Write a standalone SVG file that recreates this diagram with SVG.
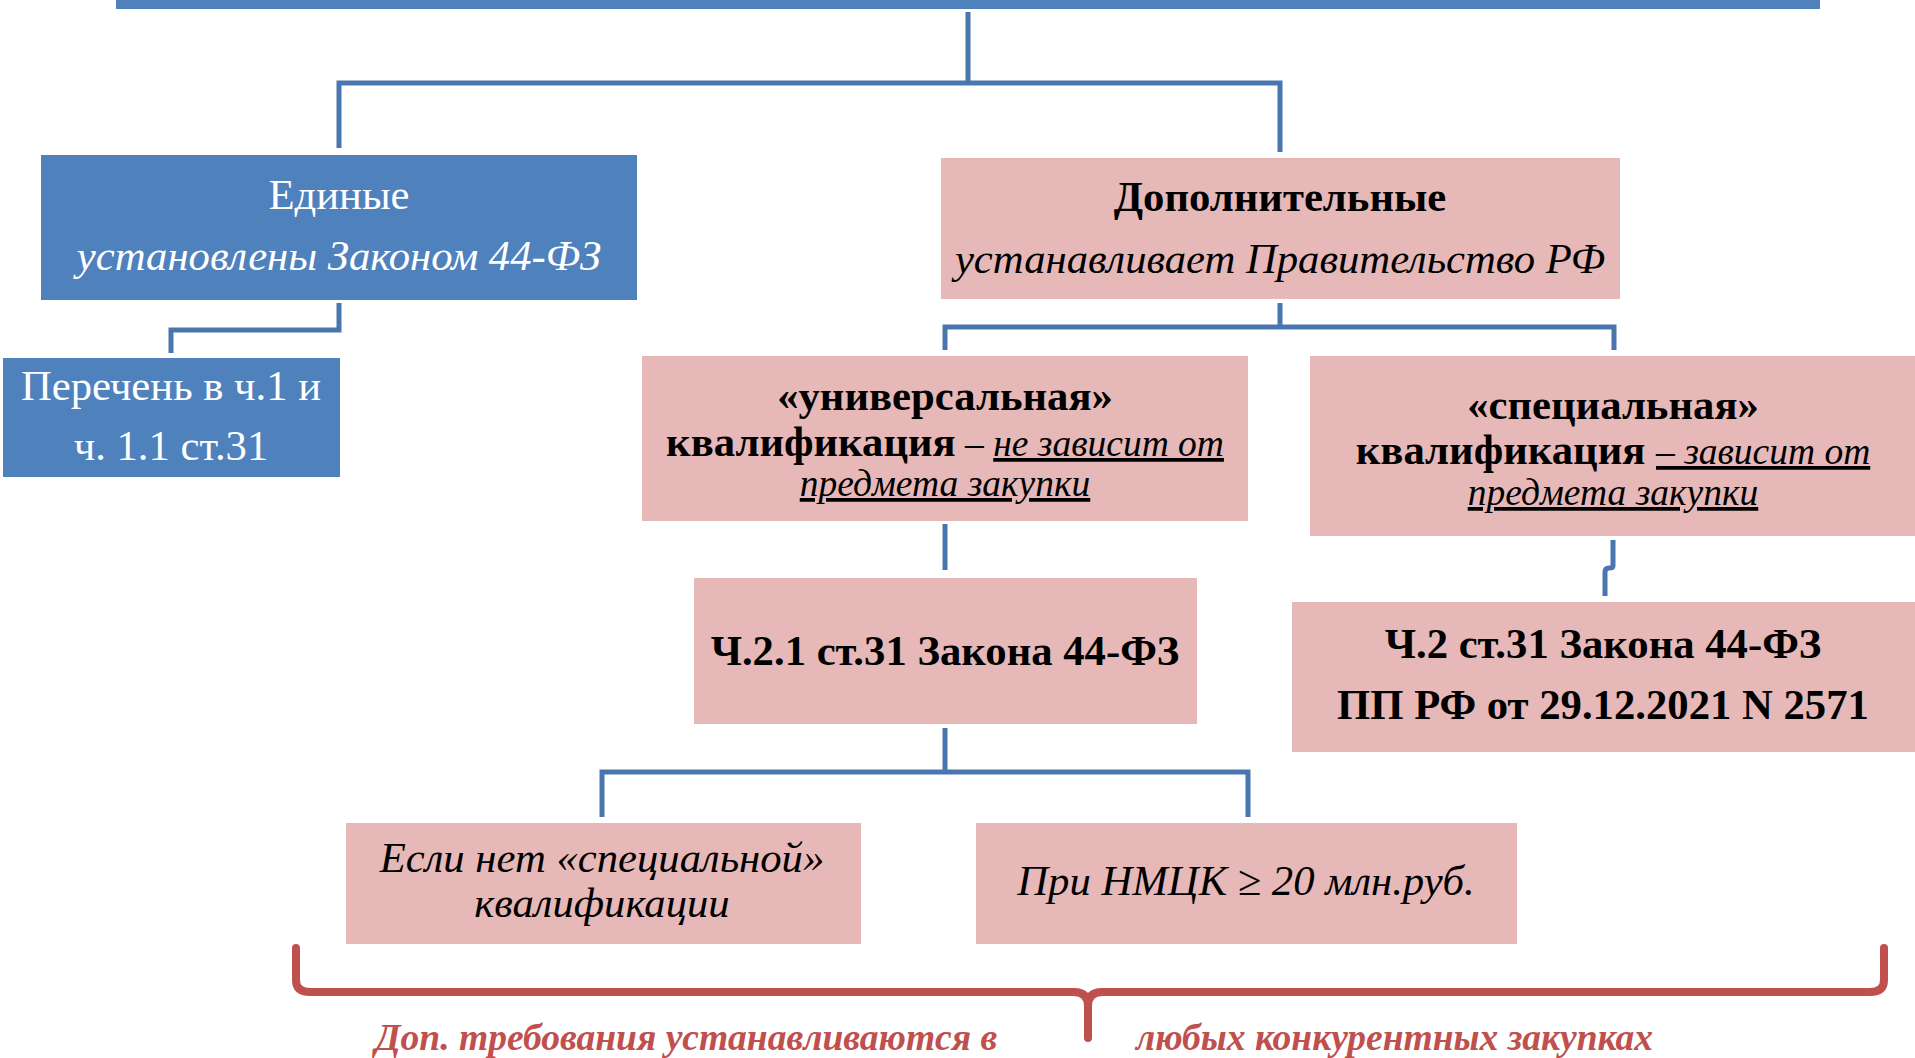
<svg xmlns="http://www.w3.org/2000/svg" width="1915" height="1058" viewBox="0 0 1915 1058">
<style>
text{font-family:"Liberation Serif","Times New Roman",serif;font-size:42.7px;text-anchor:middle;fill:#000}
.blue{fill:#4F81BD}
.pink{fill:#E6B8B7}
.w{fill:#fff}
.b{font-weight:bold}
.i{font-style:italic}
.s{font-size:37.5px}
.u{text-decoration:underline}
.conn{fill:none;stroke:#4A76B0;stroke-width:5}
.brace{fill:none;stroke:#C0504D;stroke-width:8;stroke-linecap:round;stroke-linejoin:round}
.red{fill:#C0504D;font-weight:bold;font-style:italic;font-size:37.5px;text-anchor:start}
</style>
<rect x="116" y="0" width="1704" height="9" class="blue"/>
<g id="connectors">
<path class="conn" d="M968,12 V83 M339,148 V83 H1280 V152"/>
<path class="conn" d="M339,303 V330 H171 V353"/>
<path class="conn" d="M1280,303 V327 M945,350 V327 H1614 V350"/>
<path class="conn" d="M945,524 V570"/>
<path class="conn" d="M1613,540 V566 Q1613,568 1609,568 Q1605,568 1605,572 V596"/>
<path class="conn" d="M945,728 V772 M602,817 V772 H1248 V817"/>
</g>
<g id="n-edinye">
<rect x="41" y="155" width="596" height="145" class="blue"/>
<text x="339" y="209" class="w">Единые</text>
<text x="339" y="270" class="w i">установлены Законом 44-ФЗ</text>
</g>
<g id="n-perechen">
<rect x="3" y="358" width="337" height="119" class="blue"/>
<text x="171" y="400" class="w">Перечень в ч.1 и</text>
<text x="171" y="460" class="w">ч. 1.1 ст.31</text>
</g>
<g id="n-dop">
<rect x="941" y="158" width="679" height="141" class="pink"/>
<text x="1280" y="211" class="b">Дополнительные</text>
<text x="1280" y="273" class="i">устанавливает Правительство РФ</text>
</g>
<g id="n-univ">
<rect x="642" y="356" width="606" height="165" class="pink"/>
<text x="945" y="410" class="b">«универсальная»</text>
<text x="945" y="456"><tspan class="b">квалификация</tspan><tspan class="i s"> – </tspan><tspan class="i s u">не зависит от</tspan></text>
<text x="945" y="496" class="i s u">предмета закупки</text>
</g>
<g id="n-spec">
<rect x="1310" y="356" width="605" height="180" class="pink"/>
<text x="1613" y="419" class="b">«специальная»</text>
<text x="1613" y="464"><tspan class="b">квалификация </tspan><tspan class="i s u">– зависит от</tspan></text>
<text x="1613" y="505" class="i s u">предмета закупки</text>
</g>
<g id="n-ch21">
<rect x="694" y="578" width="503" height="146" class="pink"/>
<text x="945" y="665" class="b">Ч.2.1 ст.31 Закона 44-ФЗ</text>
</g>
<g id="n-ch2">
<rect x="1292" y="602" width="623" height="150" class="pink"/>
<text x="1603" y="658" class="b">Ч.2 ст.31 Закона 44-ФЗ</text>
<text x="1603" y="719" class="b">ПП РФ от 29.12.2021 N 2571</text>
</g>
<g id="n-esli">
<rect x="346" y="823" width="515" height="121" class="pink"/>
<text x="602" y="872" class="i">Если нет «специальной»</text>
<text x="602" y="917" class="i">квалификации</text>
</g>
<g id="n-pri">
<rect x="976" y="823" width="541" height="121" class="pink"/>
<text x="1246" y="895" class="i">При НМЦК ≥ 20 млн.руб.</text>
</g>
<g id="brace">
<path class="brace" d="M296,948 V980 Q296,992 310,992 H1074 Q1088,992 1088,1006 V1038"/>
<path class="brace" d="M1884,948 V980 Q1884,992 1870,992 H1102 Q1088,992 1088,1006"/>
<text x="375" y="1050" class="red">Доп. требования устанавливаются в</text>
<text x="1136" y="1050" class="red">любых конкурентных закупках</text>
</g>
</svg>
